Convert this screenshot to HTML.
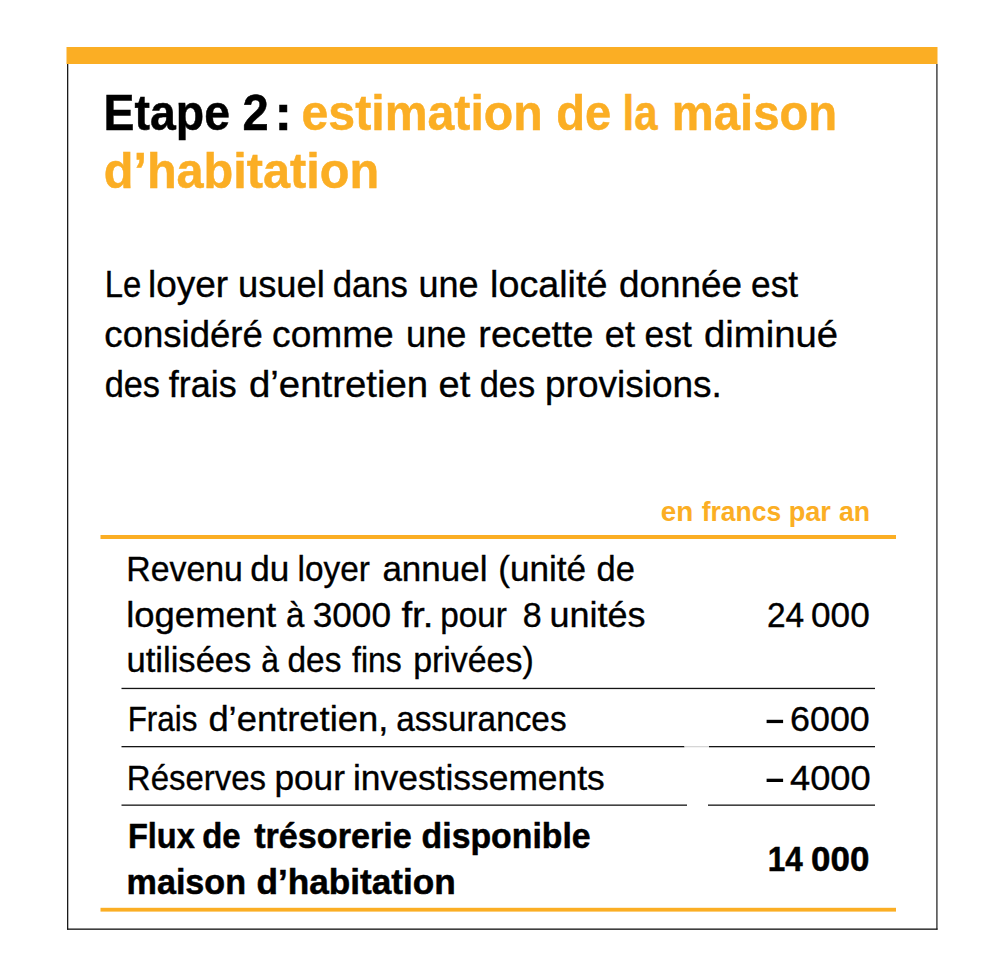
<!DOCTYPE html>
<html><head><meta charset="utf-8"><title>Etape 2 : estimation de la maison d’habitation</title><style>html,body{margin:0;padding:0;background:#fff;width:1000px;height:960px;overflow:hidden}svg{display:block}text{font-family:"Liberation Sans",sans-serif;white-space:pre}</style></head><body>
<svg width="1000" height="960" viewBox="0 0 1000 960">
<rect x="66.5" y="47" width="871" height="17" fill="#FBAE24"/>
<rect x="67" y="64" width="1.3" height="865.5" fill="#1a1a1a"/>
<rect x="936.2" y="64" width="1.4" height="865.5" fill="#3a3a3a"/>
<rect x="67" y="928.5" width="870.6" height="1.3" fill="#111"/>
<rect x="100.5" y="535" width="795.5" height="4" fill="#FBAE24"/>
<rect x="100.5" y="907.8" width="795.5" height="3.8" fill="#FBAE24"/>
<rect x="121.5" y="687.8" width="753.5" height="1.3" fill="#141414"/>
<rect x="121.5" y="746" width="563" height="1.3" fill="#141414"/>
<rect x="684.5" y="746" width="24.5" height="1.3" fill="#d6d6d6"/>
<rect x="709" y="746" width="166" height="1.3" fill="#141414"/>
<rect x="121.5" y="804.5" width="565.5" height="1.3" fill="#141414"/>
<rect x="708" y="804.5" width="167" height="1.3" fill="#141414"/>
<rect x="766.6" y="719.8" width="16.5" height="3.3" fill="#000"/>
<rect x="766.6" y="778.7" width="16.5" height="3.3" fill="#000"/>
<text x="103.60" y="130.00" font-weight="700" font-size="50.50" fill="#000000" stroke="#000000" stroke-width="0.50" textLength="126.45" lengthAdjust="spacingAndGlyphs">Etape</text>
<text x="242.60" y="130.00" font-weight="700" font-size="50.50" fill="#000000" stroke="#000000" stroke-width="0.50" textLength="26.18" lengthAdjust="spacingAndGlyphs">2</text>
<text x="274.59" y="130.00" font-weight="700" font-size="50.50" fill="#000000" stroke="#000000" stroke-width="0.50" textLength="17.53" lengthAdjust="spacingAndGlyphs">:</text>
<text x="301.52" y="130.00" font-weight="700" font-size="50.50" fill="#FBAE24" stroke="#FBAE24" stroke-width="0.50" textLength="241.26" lengthAdjust="spacingAndGlyphs">estimation</text>
<text x="556.22" y="130.00" font-weight="700" font-size="50.50" fill="#FBAE24" stroke="#FBAE24" stroke-width="0.50" textLength="55.03" lengthAdjust="spacingAndGlyphs">de</text>
<text x="622.48" y="130.00" font-weight="700" font-size="50.50" fill="#FBAE24" stroke="#FBAE24" stroke-width="0.50" textLength="35.02" lengthAdjust="spacingAndGlyphs">la</text>
<text x="671.76" y="130.00" font-weight="700" font-size="50.50" fill="#FBAE24" stroke="#FBAE24" stroke-width="0.50" textLength="165.49" lengthAdjust="spacingAndGlyphs">maison</text>
<text x="103.70" y="187.50" font-weight="700" font-size="50.50" fill="#FBAE24" stroke="#FBAE24" stroke-width="0.50" textLength="275.39" lengthAdjust="spacingAndGlyphs">d’habitation</text>
<text x="104.68" y="297.00" font-weight="400" font-size="37.30" fill="#000000" stroke="#000000" stroke-width="0.35" textLength="36.57" lengthAdjust="spacingAndGlyphs">Le</text>
<text x="147.95" y="297.00" font-weight="400" font-size="37.30" fill="#000000" stroke="#000000" stroke-width="0.35" textLength="80.20" lengthAdjust="spacingAndGlyphs">loyer</text>
<text x="238.04" y="297.00" font-weight="400" font-size="37.30" fill="#000000" stroke="#000000" stroke-width="0.35" textLength="86.78" lengthAdjust="spacingAndGlyphs">usuel</text>
<text x="332.70" y="297.00" font-weight="400" font-size="37.30" fill="#000000" stroke="#000000" stroke-width="0.35" textLength="75.24" lengthAdjust="spacingAndGlyphs">dans</text>
<text x="418.40" y="297.00" font-weight="400" font-size="37.30" fill="#000000" stroke="#000000" stroke-width="0.35" textLength="60.04" lengthAdjust="spacingAndGlyphs">une</text>
<text x="490.10" y="297.00" font-weight="400" font-size="37.30" fill="#000000" stroke="#000000" stroke-width="0.35" textLength="117.35" lengthAdjust="spacingAndGlyphs">localité</text>
<text x="619.05" y="297.00" font-weight="400" font-size="37.30" fill="#000000" stroke="#000000" stroke-width="0.35" textLength="123.06" lengthAdjust="spacingAndGlyphs">donnée</text>
<text x="751.01" y="297.00" font-weight="400" font-size="37.30" fill="#000000" stroke="#000000" stroke-width="0.35" textLength="47.11" lengthAdjust="spacingAndGlyphs">est</text>
<text x="104.37" y="347.00" font-weight="400" font-size="37.30" fill="#000000" stroke="#000000" stroke-width="0.35" textLength="158.43" lengthAdjust="spacingAndGlyphs">considéré</text>
<text x="272.08" y="347.00" font-weight="400" font-size="37.30" fill="#000000" stroke="#000000" stroke-width="0.35" textLength="121.63" lengthAdjust="spacingAndGlyphs">comme</text>
<text x="406.09" y="347.00" font-weight="400" font-size="37.30" fill="#000000" stroke="#000000" stroke-width="0.35" textLength="60.44" lengthAdjust="spacingAndGlyphs">une</text>
<text x="478.38" y="347.00" font-weight="400" font-size="37.30" fill="#000000" stroke="#000000" stroke-width="0.35" textLength="115.05" lengthAdjust="spacingAndGlyphs">recette</text>
<text x="604.87" y="347.00" font-weight="400" font-size="37.30" fill="#000000" stroke="#000000" stroke-width="0.35" textLength="30.18" lengthAdjust="spacingAndGlyphs">et</text>
<text x="644.58" y="347.00" font-weight="400" font-size="37.30" fill="#000000" stroke="#000000" stroke-width="0.35" textLength="47.13" lengthAdjust="spacingAndGlyphs">est</text>
<text x="704.02" y="347.00" font-weight="400" font-size="37.30" fill="#000000" stroke="#000000" stroke-width="0.35" textLength="133.95" lengthAdjust="spacingAndGlyphs">diminué</text>
<text x="104.66" y="397.00" font-weight="400" font-size="37.30" fill="#000000" stroke="#000000" stroke-width="0.35" textLength="55.38" lengthAdjust="spacingAndGlyphs">des</text>
<text x="168.83" y="397.00" font-weight="400" font-size="37.30" fill="#000000" stroke="#000000" stroke-width="0.35" textLength="67.85" lengthAdjust="spacingAndGlyphs">frais</text>
<text x="249.02" y="397.00" font-weight="400" font-size="37.30" fill="#000000" stroke="#000000" stroke-width="0.35" textLength="179.10" lengthAdjust="spacingAndGlyphs">d’entretien</text>
<text x="438.56" y="397.00" font-weight="400" font-size="37.30" fill="#000000" stroke="#000000" stroke-width="0.35" textLength="31.67" lengthAdjust="spacingAndGlyphs">et</text>
<text x="479.71" y="397.00" font-weight="400" font-size="37.30" fill="#000000" stroke="#000000" stroke-width="0.35" textLength="55.40" lengthAdjust="spacingAndGlyphs">des</text>
<text x="545.05" y="397.00" font-weight="400" font-size="37.30" fill="#000000" stroke="#000000" stroke-width="0.35" textLength="176.85" lengthAdjust="spacingAndGlyphs">provisions.</text>
<text x="660.64" y="521.00" font-weight="700" font-size="28.50" fill="#FBAE24" textLength="32.53" lengthAdjust="spacingAndGlyphs">en</text>
<text x="701.78" y="521.00" font-weight="700" font-size="28.50" fill="#FBAE24" textLength="79.32" lengthAdjust="spacingAndGlyphs">francs</text>
<text x="788.63" y="521.00" font-weight="700" font-size="28.50" fill="#FBAE24" textLength="42.33" lengthAdjust="spacingAndGlyphs">par</text>
<text x="839.04" y="521.00" font-weight="700" font-size="28.50" fill="#FBAE24" textLength="31.15" lengthAdjust="spacingAndGlyphs">an</text>
<text x="126.34" y="581.00" font-weight="400" font-size="35.40" fill="#000000" stroke="#000000" stroke-width="0.35" textLength="116.54" lengthAdjust="spacingAndGlyphs">Revenu</text>
<text x="250.29" y="581.00" font-weight="400" font-size="35.40" fill="#000000" stroke="#000000" stroke-width="0.35" textLength="39.02" lengthAdjust="spacingAndGlyphs">du</text>
<text x="297.55" y="581.00" font-weight="400" font-size="35.40" fill="#000000" stroke="#000000" stroke-width="0.35" textLength="72.30" lengthAdjust="spacingAndGlyphs">loyer</text>
<text x="382.41" y="581.00" font-weight="400" font-size="35.40" fill="#000000" stroke="#000000" stroke-width="0.35" textLength="105.03" lengthAdjust="spacingAndGlyphs">annuel</text>
<text x="498.34" y="581.00" font-weight="400" font-size="35.40" fill="#000000" stroke="#000000" stroke-width="0.35" textLength="87.80" lengthAdjust="spacingAndGlyphs">(unité</text>
<text x="596.49" y="581.00" font-weight="400" font-size="35.40" fill="#000000" stroke="#000000" stroke-width="0.35" textLength="38.35" lengthAdjust="spacingAndGlyphs">de</text>
<text x="126.21" y="626.80" font-weight="400" font-size="35.40" fill="#000000" stroke="#000000" stroke-width="0.35" textLength="150.03" lengthAdjust="spacingAndGlyphs">logement</text>
<text x="285.92" y="626.80" font-weight="400" font-size="35.40" fill="#000000" stroke="#000000" stroke-width="0.35" textLength="18.39" lengthAdjust="spacingAndGlyphs">à</text>
<text x="312.68" y="626.80" font-weight="400" font-size="35.40" fill="#000000" stroke="#000000" stroke-width="0.35" textLength="78.33" lengthAdjust="spacingAndGlyphs">3000</text>
<text x="401.46" y="626.80" font-weight="400" font-size="35.40" fill="#000000" stroke="#000000" stroke-width="0.35" textLength="32.00" lengthAdjust="spacingAndGlyphs">fr.</text>
<text x="440.27" y="626.80" font-weight="400" font-size="35.40" fill="#000000" stroke="#000000" stroke-width="0.35" textLength="66.62" lengthAdjust="spacingAndGlyphs">pour</text>
<text x="522.86" y="626.80" font-weight="400" font-size="35.40" fill="#000000" stroke="#000000" stroke-width="0.35" textLength="18.90" lengthAdjust="spacingAndGlyphs">8</text>
<text x="549.59" y="626.80" font-weight="400" font-size="35.40" fill="#000000" stroke="#000000" stroke-width="0.35" textLength="96.05" lengthAdjust="spacingAndGlyphs">unités</text>
<text x="126.51" y="672.30" font-weight="400" font-size="35.40" fill="#000000" stroke="#000000" stroke-width="0.35" textLength="124.87" lengthAdjust="spacingAndGlyphs">utilisées</text>
<text x="261.13" y="672.30" font-weight="400" font-size="35.40" fill="#000000" stroke="#000000" stroke-width="0.35" textLength="17.66" lengthAdjust="spacingAndGlyphs">à</text>
<text x="287.51" y="672.30" font-weight="400" font-size="35.40" fill="#000000" stroke="#000000" stroke-width="0.35" textLength="53.91" lengthAdjust="spacingAndGlyphs">des</text>
<text x="352.05" y="672.30" font-weight="400" font-size="35.40" fill="#000000" stroke="#000000" stroke-width="0.35" textLength="49.64" lengthAdjust="spacingAndGlyphs">fins</text>
<text x="413.14" y="672.30" font-weight="400" font-size="35.40" fill="#000000" stroke="#000000" stroke-width="0.35" textLength="120.58" lengthAdjust="spacingAndGlyphs">privées)</text>
<text x="766.97" y="627.10" font-weight="400" font-size="35.40" fill="#000000" stroke="#000000" stroke-width="0.35" textLength="37.25" lengthAdjust="spacingAndGlyphs">24</text>
<text x="811.01" y="627.10" font-weight="400" font-size="35.40" fill="#000000" stroke="#000000" stroke-width="0.35" textLength="58.74" lengthAdjust="spacingAndGlyphs">000</text>
<text x="127.63" y="731.00" font-weight="400" font-size="35.40" fill="#000000" stroke="#000000" stroke-width="0.35" textLength="69.72" lengthAdjust="spacingAndGlyphs">Frais</text>
<text x="208.42" y="731.00" font-weight="400" font-size="35.40" fill="#000000" stroke="#000000" stroke-width="0.35" textLength="179.83" lengthAdjust="spacingAndGlyphs">d’entretien,</text>
<text x="396.13" y="731.00" font-weight="400" font-size="35.40" fill="#000000" stroke="#000000" stroke-width="0.35" textLength="170.42" lengthAdjust="spacingAndGlyphs">assurances</text>
<text x="790.00" y="731.20" font-weight="400" font-size="35.40" fill="#000000" stroke="#000000" stroke-width="0.35" textLength="79.77" lengthAdjust="spacingAndGlyphs">6000</text>
<text x="126.86" y="790.00" font-weight="400" font-size="35.40" fill="#000000" stroke="#000000" stroke-width="0.35" textLength="139.11" lengthAdjust="spacingAndGlyphs">Réserves</text>
<text x="274.42" y="790.00" font-weight="400" font-size="35.40" fill="#000000" stroke="#000000" stroke-width="0.35" textLength="70.49" lengthAdjust="spacingAndGlyphs">pour</text>
<text x="352.97" y="790.00" font-weight="400" font-size="35.40" fill="#000000" stroke="#000000" stroke-width="0.35" textLength="251.81" lengthAdjust="spacingAndGlyphs">investissements</text>
<text x="790.00" y="789.90" font-weight="400" font-size="35.40" fill="#000000" stroke="#000000" stroke-width="0.35" textLength="80.73" lengthAdjust="spacingAndGlyphs">4000</text>
<text x="127.91" y="848.00" font-weight="700" font-size="35.60" fill="#000000" stroke="#000000" stroke-width="0.50" textLength="66.88" lengthAdjust="spacingAndGlyphs">Flux</text>
<text x="202.27" y="848.00" font-weight="700" font-size="35.60" fill="#000000" stroke="#000000" stroke-width="0.50" textLength="38.37" lengthAdjust="spacingAndGlyphs">de</text>
<text x="254.21" y="848.00" font-weight="700" font-size="35.60" fill="#000000" stroke="#000000" stroke-width="0.50" textLength="157.45" lengthAdjust="spacingAndGlyphs">trésorerie</text>
<text x="421.59" y="848.00" font-weight="700" font-size="35.60" fill="#000000" stroke="#000000" stroke-width="0.50" textLength="169.08" lengthAdjust="spacingAndGlyphs">disponible</text>
<text x="126.54" y="894.00" font-weight="700" font-size="35.60" fill="#000000" stroke="#000000" stroke-width="0.50" textLength="119.53" lengthAdjust="spacingAndGlyphs">maison</text>
<text x="256.45" y="894.00" font-weight="700" font-size="35.60" fill="#000000" stroke="#000000" stroke-width="0.50" textLength="199.33" lengthAdjust="spacingAndGlyphs">d’habitation</text>
<text x="767.73" y="871.20" font-weight="700" font-size="35.60" fill="#000000" stroke="#000000" stroke-width="0.50" textLength="34.99" lengthAdjust="spacingAndGlyphs">14</text>
<text x="811.04" y="871.20" font-weight="700" font-size="35.60" fill="#000000" stroke="#000000" stroke-width="0.50" textLength="58.32" lengthAdjust="spacingAndGlyphs">000</text>
</svg>
</body></html>
